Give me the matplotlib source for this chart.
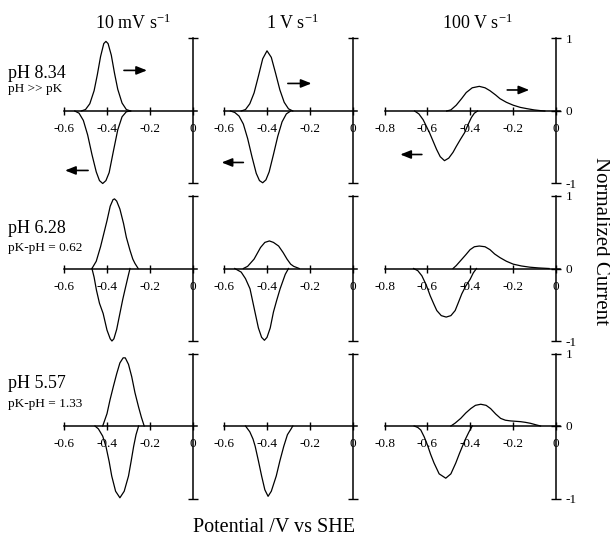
import matplotlib
matplotlib.use('Agg')
import matplotlib.pyplot as plt

plt.rcParams['font.family'] = ['Liberation Serif', 'DejaVu Serif']
plt.rcParams['mathtext.fontset'] = 'stix'

# --- data (potential / V vs SHE, normalized current) ---
# row a: pH 8.34
a1_ox_E = [-0.52, -0.50, -0.48, -0.46, -0.445, -0.43, -0.415, -0.405, -0.395, -0.38, -0.365, -0.35, -0.33, -0.31, -0.29]
a1_ox_I = [0.0, 0.02, 0.10, 0.28, 0.50, 0.75, 0.93, 0.96, 0.93, 0.77, 0.52, 0.30, 0.11, 0.02, 0.0]
a1_red_E = [-0.55, -0.53, -0.51, -0.49, -0.47, -0.45, -0.435, -0.42, -0.405, -0.39, -0.37, -0.35, -0.33, -0.31, -0.29]
a1_red_I = [0.0, -0.03, -0.13, -0.33, -0.60, -0.84, -0.96, -1.0, -0.96, -0.85, -0.55, -0.26, -0.08, -0.01, 0.0]

a2_ox_E = [-0.52, -0.50, -0.48, -0.46, -0.44, -0.42, -0.40, -0.38, -0.36, -0.34, -0.32, -0.30, -0.28]
a2_ox_I = [0.0, 0.02, 0.10, 0.25, 0.48, 0.72, 0.83, 0.74, 0.52, 0.29, 0.12, 0.03, 0.0]
a2_red_E = [-0.57, -0.55, -0.53, -0.51, -0.49, -0.47, -0.45, -0.435, -0.42, -0.405, -0.39, -0.37, -0.35, -0.33, -0.31, -0.29]
a2_red_I = [0.0, -0.02, -0.07, -0.18, -0.38, -0.63, -0.86, -0.96, -0.99, -0.95, -0.84, -0.60, -0.35, -0.15, -0.04, 0.0]

a3_ox_E = [-0.51, -0.49, -0.465, -0.44, -0.418, -0.39, -0.357, -0.33, -0.307, -0.28, -0.26, -0.23, -0.198, -0.165, -0.135, -0.10, -0.07, -0.05]
a3_ox_I = [0.0, 0.015, 0.08, 0.17, 0.255, 0.32, 0.34, 0.32, 0.28, 0.22, 0.17, 0.12, 0.08, 0.05, 0.033, 0.015, 0.005, 0.0]
a3_red_E = [-0.66, -0.64, -0.62, -0.59, -0.557, -0.54, -0.52, -0.50, -0.48, -0.465, -0.445, -0.426, -0.41, -0.394, -0.38, -0.365]
a3_red_I = [0.0, -0.04, -0.12, -0.30, -0.53, -0.63, -0.685, -0.65, -0.57, -0.49, -0.39, -0.30, -0.19, -0.09, -0.03, 0.0]

# row b: pH 6.28
b1_ox_E = [-0.47, -0.45, -0.43, -0.415, -0.40, -0.385, -0.372, -0.365, -0.355, -0.34, -0.323, -0.31, -0.293, -0.28, -0.27, -0.255]
b1_ox_I = [0.0, 0.10, 0.30, 0.48, 0.66, 0.86, 0.95, 0.96, 0.93, 0.82, 0.62, 0.43, 0.25, 0.13, 0.07, 0.0]
b1_red_E = [-0.47, -0.46, -0.449, -0.435, -0.418, -0.40, -0.385, -0.377, -0.368, -0.355, -0.34, -0.327, -0.317, -0.302, -0.293]
b1_red_I = [0.0, -0.12, -0.30, -0.48, -0.62, -0.85, -0.97, -1.0, -0.97, -0.84, -0.62, -0.43, -0.30, -0.11, 0.0]

b2_ox_E = [-0.51, -0.49, -0.46, -0.43, -0.41, -0.389, -0.37, -0.346, -0.325, -0.307, -0.29, -0.276, -0.25]
b2_ox_I = [0.0, 0.03, 0.13, 0.29, 0.36, 0.38, 0.36, 0.31, 0.22, 0.13, 0.06, 0.03, 0.0]
b2_red_E = [-0.55, -0.52, -0.50, -0.479, -0.456, -0.44, -0.425, -0.412, -0.40, -0.385, -0.37, -0.355, -0.339, -0.315, -0.30]
b2_red_I = [0.0, -0.05, -0.14, -0.28, -0.60, -0.82, -0.95, -0.99, -0.95, -0.82, -0.60, -0.44, -0.28, -0.08, 0.0]

b3_ox_E = [-0.48, -0.465, -0.447, -0.42, -0.40, -0.38, -0.357, -0.33, -0.307, -0.285, -0.26, -0.23, -0.198, -0.16, -0.12, -0.08, -0.03]
b3_ox_I = [0.0, 0.04, 0.10, 0.19, 0.26, 0.30, 0.31, 0.30, 0.26, 0.20, 0.15, 0.10, 0.06, 0.035, 0.018, 0.008, 0.0]
b3_red_E = [-0.665, -0.645, -0.626, -0.605, -0.587, -0.57, -0.556, -0.535, -0.512, -0.49, -0.47, -0.455, -0.439, -0.42, -0.40, -0.385, -0.37]
b3_red_I = [0.0, -0.03, -0.10, -0.23, -0.375, -0.49, -0.58, -0.65, -0.67, -0.65, -0.58, -0.47, -0.35, -0.24, -0.15, -0.06, 0.0]

# row c: pH 5.57
c1_ox_E = [-0.42, -0.40, -0.386, -0.37, -0.355, -0.34, -0.325, -0.315, -0.30, -0.285, -0.27, -0.253, -0.24, -0.227]
c1_ox_I = [0.0, 0.17, 0.36, 0.55, 0.72, 0.87, 0.94, 0.94, 0.85, 0.68, 0.46, 0.26, 0.12, 0.0]
c1_red_E = [-0.456, -0.44, -0.42, -0.405, -0.39, -0.378, -0.36, -0.34, -0.32, -0.30, -0.288, -0.276, -0.265, -0.253]
c1_red_I = [0.0, -0.04, -0.14, -0.28, -0.49, -0.69, -0.90, -0.99, -0.90, -0.69, -0.49, -0.28, -0.12, 0.0]

c2_ox_E = []
c2_ox_I = []
c2_red_E = [-0.50, -0.48, -0.465, -0.455, -0.44, -0.425, -0.41, -0.395, -0.38, -0.357, -0.34, -0.322, -0.305, -0.29, -0.28]
c2_red_I = [0.0, -0.08, -0.18, -0.28, -0.48, -0.69, -0.88, -0.97, -0.90, -0.69, -0.48, -0.28, -0.12, -0.05, 0.0]

c3_ox_E = [-0.49, -0.47, -0.444, -0.42, -0.397, -0.375, -0.35, -0.325, -0.304, -0.28, -0.257, -0.235, -0.21, -0.187, -0.164, -0.14, -0.117, -0.09, -0.07]
c3_ox_I = [0.0, 0.04, 0.105, 0.18, 0.24, 0.285, 0.30, 0.285, 0.24, 0.165, 0.105, 0.08, 0.07, 0.065, 0.06, 0.05, 0.037, 0.015, 0.0]
c3_red_E = [-0.662, -0.645, -0.631, -0.615, -0.60, -0.585, -0.569, -0.545, -0.514, -0.49, -0.467, -0.45, -0.436, -0.42, -0.405, -0.39]
c3_red_I = [0.0, -0.02, -0.055, -0.15, -0.26, -0.39, -0.51, -0.66, -0.72, -0.66, -0.51, -0.38, -0.28, -0.17, -0.08, 0.0]

scan_rates = ['10 mV s$^{\\mathregular{-1}}$', '1 V s$^{\\mathregular{-1}}$', '100 V s$^{\\mathregular{-1}}$']
ph_labels = ['pH 8.34', 'pH 6.28', 'pH 5.57']
ph_notes = ['pH >> pK', 'pK-pH = 0.62', 'pK-pH = 1.33']
xticks_by_col = [[-0.6, -0.4, -0.2, 0], [-0.6, -0.4, -0.2, 0], [-0.8, -0.6, -0.4, -0.2, 0]]
xticklabels_by_col = [['-0.6', '-0.4', '-0.2', '0'], ['-0.6', '-0.4', '-0.2', '0'],
                      ['-0.8', '-0.6', '-0.4', '-0.2', '0']]

curves = [
    [(a1_ox_E, a1_ox_I, a1_red_E, a1_red_I), (a2_ox_E, a2_ox_I, a2_red_E, a2_red_I), (a3_ox_E, a3_ox_I, a3_red_E, a3_red_I)],
    [(b1_ox_E, b1_ox_I, b1_red_E, b1_red_I), (b2_ox_E, b2_ox_I, b2_red_E, b2_red_I), (b3_ox_E, b3_ox_I, b3_red_E, b3_red_I)],
    [(c1_ox_E, c1_ox_I, c1_red_E, c1_red_I), (c2_ox_E, c2_ox_I, c2_red_E, c2_red_I), (c3_ox_E, c3_ox_I, c3_red_E, c3_red_I)],
]

# scan direction arrows (top row only): (start E, end E, current)
arrows_by_col = [
    [(-0.321, -0.214, 0.56), (-0.488, -0.595, -0.82)],
    [(-0.303, -0.193, 0.38), (-0.510, -0.611, -0.71)],
    [(-0.226, -0.123, 0.29), (-0.626, -0.727, -0.60)],
]

# --- layout (pixels of the 610x542 canvas) ---
W, H = 610, 542
col_zero_px = [193, 353, 555.5]
col_scale = [215, 215, 213.5]
row_zero_px = [111, 268.5, 426]
y_scale = 72.5

fig = plt.figure(figsize=(W / 100, H / 100), dpi=100)

for r in range(3):
    for c in range(3):
        xmin = xticks_by_col[c][0]
        xlo, xhi = xmin - 0.08, 0.06
        left = col_zero_px[c] + xlo * col_scale[c]
        right = col_zero_px[c] + xhi * col_scale[c]
        top = row_zero_px[r] - 1.1 * y_scale
        bottom = row_zero_px[r] + 1.1 * y_scale
        ax = fig.add_axes([left / W, 1 - bottom / H, (right - left) / W, (bottom - top) / H])
        ax.patch.set_visible(False)
        ax.set_xlim(xlo, xhi)
        ax.set_ylim(-1.1, 1.1)

        ox_E, ox_I, red_E, red_I = curves[r][c]
        if ox_E:
            ax.plot(ox_E, ox_I, color='black', lw=0.9)
        ax.plot(red_E, red_I, color='black', lw=0.9)

        for s in ['top', 'left']:
            ax.spines[s].set_visible(False)
        ax.spines['bottom'].set_position(('data', 0))
        ax.spines['bottom'].set_bounds(xmin, 0.02)
        ax.spines['right'].set_position(('data', 0))
        ax.spines['right'].set_bounds(-1, 1)
        for s in ['bottom', 'right']:
            ax.spines[s].set_linewidth(1.1)

        ax.set_xticks(xticks_by_col[c])
        ax.set_xticklabels(xticklabels_by_col[c])
        ax.tick_params(axis='x', direction='inout', length=5.5, width=1.0, pad=6, labelsize=9.5)

        ax.yaxis.set_ticks_position('right')
        if c == 2:
            ax.set_yticks([-1, 0, 1])
            ax.set_yticklabels(['-1', '0', '1'])
        else:
            ax.set_yticks([-1, 1])
            ax.set_yticklabels(['', ''])
        ax.tick_params(axis='y', direction='inout', length=7, width=1.0, pad=4, labelsize=9.5)

        if r == 0:
            for e0, e1, i in arrows_by_col[c]:
                ax.annotate('', xy=(e1, i), xytext=(e0, i),
                            arrowprops=dict(arrowstyle='-|>,head_length=0.45,head_width=0.18',
                                            mutation_scale=14, color='black', lw=1.2,
                                            shrinkA=0, shrinkB=0))

# column titles
title_x = [133, 292, 477]
for c in range(3):
    fig.text(title_x[c] / W, 1 - 29 / H, scan_rates[c], fontsize=13, ha='center', va='baseline')

# row labels
ph_base = [78, 233, 388]
note_base = [92, 251, 407]
for r in range(3):
    fig.text(8 / W, 1 - ph_base[r] / H, ph_labels[r], fontsize=13, ha='left', va='baseline')
    fig.text(8 / W, 1 - note_base[r] / H, ph_notes[r], fontsize=9.5, ha='left', va='baseline')

fig.text(601 / W, 1 - 241 / H, 'Normalized Current', fontsize=15, rotation=270,
         ha='center', va='center')
fig.text(274 / W, 1 - 532 / H, 'Potential /V vs SHE', fontsize=14.5, ha='center', va='baseline')

fig.savefig('out.png', dpi=100)
